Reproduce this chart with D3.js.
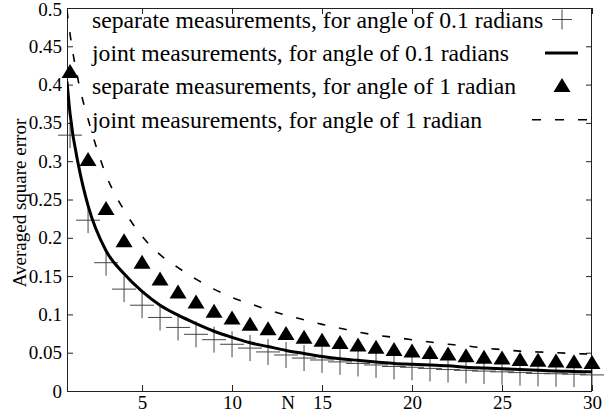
<!DOCTYPE html>
<html><head><meta charset="utf-8">
<script src="https://cdn.jsdelivr.net/npm/d3@7"></script>
<style>body{margin:0;background:#fff}svg{display:block}</style>
</head><body><svg id="c" width="616" height="417"></svg>
<script>
// ---- data ----
const pointN = [1,2,3,4,5,6,7,8,9,10,11,12,13,14,15,16,17,18,19,20,21,22,23,24,25,26,27,28,29,30];
const sep01 = [0.334,0.223,0.1675,0.133,0.112,0.096,0.083,0.074,0.067,0.061,0.056,0.051,0.047,0.043,0.0405,0.038,0.036,0.034,0.032,0.031,0.0295,0.028,0.027,0.026,0.025,0.024,0.023,0.0225,0.022,0.021];
const sep1 = [0.416,0.301,0.237,0.195,0.167,0.145,0.128,0.115,0.103,0.094,0.086,0.080,0.074,0.069,0.065,0.062,0.059,0.056,0.053,0.051,0.049,0.047,0.045,0.043,0.042,0.040,0.039,0.038,0.037,0.036];
const curveN = [0.83,1,1.5,2,3,4,5,6,7,8,9,10,11,12,13,14,15,16,17,18,19,20,21,22,23,24,25,26,27,28,29,30];
const joint01 = [0.404,0.362,0.291,0.242,0.183,0.153,0.130,0.112,0.099,0.088,0.078,0.070,0.063,0.058,0.053,0.049,0.045,0.042,0.040,0.038,0.036,0.035,0.034,0.033,0.031,0.030,0.029,0.028,0.027,0.026,0.0255,0.025];
const joint1 = [0.497,0.466,0.400,0.355,0.282,0.236,0.202,0.178,0.161,0.146,0.133,0.122,0.114,0.106,0.099,0.093,0.087,0.082,0.077,0.073,0.070,0.067,0.064,0.061,0.059,0.056,0.054,0.052,0.051,0.050,0.049,0.048];
const xTicks = [5,10,15,20,25,30];
const yTicks = [0,0.05,0.1,0.15,0.2,0.25,0.3,0.35,0.4,0.45,0.5];
const yTickLabels = ["0","0.05","0.1","0.15","0.2","0.25","0.3","0.35","0.4","0.45","0.5"];
const legendLabels = [
  "separate measurements, for angle of 0.1 radians",
  "joint measurements, for angle of 0.1 radians",
  "separate measurements, for angle of 1 radian",
  "joint measurements, for angle of 1 radian"
];
const xTitle = "N";
const yTitle = "Averaged square error";

// ---- layout ----
const L = 67, R = 592, T = 8, B = 391;
const svg = d3.select("#c");
const x = d3.scaleLinear().domain([0.83, 30]).range([L, R]);
const y = d3.scaleLinear().domain([0, 0.5]).range([B, T]);
const axisFont = "Liberation Serif, Times New Roman, serif";

svg.append("defs").append("clipPath").attr("id","clip")
  .append("rect").attr("x",L).attr("y",T).attr("width",R-L).attr("height",B-T);

// frame
svg.append("rect").attr("x",L+0.5).attr("y",T+0.5).attr("width",R-L-1).attr("height",B-T)
  .attr("fill","none").attr("stroke","#222").attr("stroke-width",1);

function styleAxis(g){
  g.select(".domain").remove();
  g.selectAll(".tick line").attr("stroke","#222");
  g.selectAll("text").attr("font-family",axisFont).attr("font-size",19).attr("fill","#000");
}
const yAxisG = svg.append("g").attr("transform",`translate(${L},0)`)
  .call(d3.axisLeft(y).tickValues(yTicks).tickSize(-6).tickPadding(5).tickFormat((d,i)=>yTickLabels[i]))
  .call(styleAxis);
// keep the top label inside the page
yAxisG.selectAll(".tick text").filter(d=>d===0.5).attr("dy","0.38em");
svg.append("g").attr("transform",`translate(${R},0)`)
  .call(d3.axisRight(y).tickValues(yTicks).tickSize(-6).tickFormat(""))
  .call(styleAxis);
svg.append("g").attr("transform",`translate(0,${B})`)
  .call(d3.axisBottom(x).tickValues(xTicks).tickSize(-6).tickPadding(5).tickFormat(d3.format("d")))
  .call(styleAxis);
svg.append("g").attr("transform",`translate(0,${T})`)
  .call(d3.axisTop(x).tickValues(xTicks).tickSize(-6).tickFormat(""))
  .call(styleAxis);

// titles
svg.append("text").attr("x",288).attr("y",409).attr("text-anchor","middle")
  .attr("font-family",axisFont).attr("font-size",19).text(xTitle);
svg.append("text").attr("transform","translate(26,203) rotate(-90)").attr("text-anchor","middle")
  .attr("font-family",axisFont).attr("font-size",19).text(yTitle);

// marks
const CH = 12, CV = 13;
function cross(g, cx, cy, h, v){
  g.append("line").attr("x1",cx-h).attr("x2",cx+h).attr("y1",cy).attr("y2",cy);
  g.append("line").attr("x1",cx).attr("x2",cx).attr("y1",cy-v).attr("y2",cy+v);
}
const triW = 17, triH = 14;
const triPath = (cx, cy) => `M${cx},${cy-triH*0.6}L${cx+triW/2},${cy+triH*0.4}L${cx-triW/2},${cy+triH*0.4}Z`;

const gc = svg.append("g").attr("stroke","#444").attr("stroke-width",1);
pointN.forEach((n,i)=>cross(gc, x(n), y(sep01[i]), CH, CV));

const line = d3.line().x(d=>x(d[0])).y(d=>y(d[1])).curve(d3.curveMonotoneX);
svg.append("path").attr("clip-path","url(#clip)")
  .attr("d", line(curveN.map((n,i)=>[n,joint01[i]])))
  .attr("fill","none").attr("stroke","#000").attr("stroke-width",3);

svg.append("g").selectAll("path").data(pointN).join("path")
  .attr("d",(n,i)=>triPath(x(n), y(sep1[i]))).attr("fill","#000");

svg.append("path").attr("clip-path","url(#clip)")
  .attr("d", line(curveN.map((n,i)=>[n,joint1[i]])))
  .attr("fill","none").attr("stroke","#000").attr("stroke-width",1.6).attr("stroke-dasharray","8,14");

// legend
const legY = i => 19.5 + 33.4*i;
svg.append("g").selectAll("text").data(legendLabels).join("text")
  .attr("x",92).attr("y",(d,i)=>legY(i)+8)
  .attr("font-family",axisFont).attr("font-size",23.7).attr("fill","#000").text(d=>d);
const lg = svg.append("g");
cross(lg.append("g").attr("stroke","#444").attr("stroke-width",1), 562, legY(0), 10, 10);
lg.append("line").attr("x1",545).attr("x2",578).attr("y1",legY(1)).attr("y2",legY(1))
  .attr("stroke","#000").attr("stroke-width",3);
lg.append("path").attr("d",triPath(562, legY(2))).attr("fill","#000");
lg.append("line").attr("x1",532).attr("x2",589).attr("y1",legY(3)).attr("y2",legY(3))
  .attr("stroke","#000").attr("stroke-width",1.6).attr("stroke-dasharray","9,14");
</script></body></html>
